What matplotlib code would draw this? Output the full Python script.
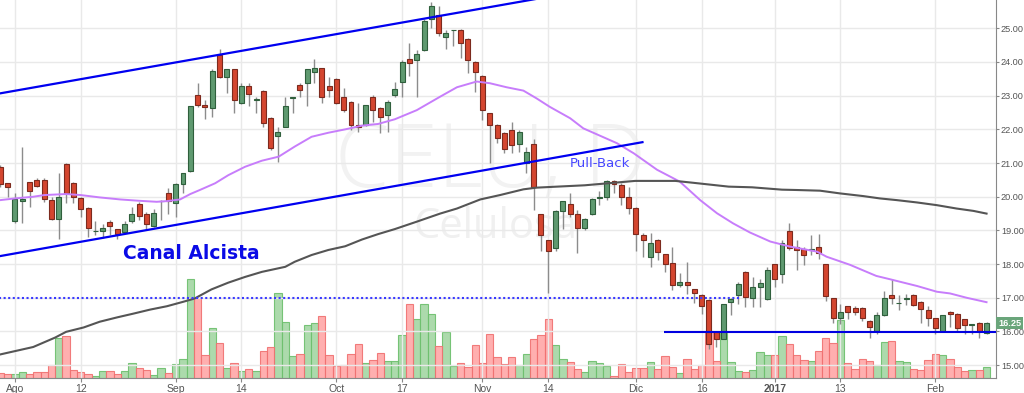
import matplotlib.pyplot as plt
from matplotlib.transforms import blended_transform_factory
import numpy as np

# daily candles, index 0 = 28 Jul 2016 ... 135 = 10 Feb 2017
opens = [20.89, 20.40, 19.29, 19.88, 20.43, 20.49, 20.51, 19.90, 19.33, 20.97,
         20.40, 19.97, 19.68, 18.97, 18.98, 19.25, 19.03, 18.96, 19.29, 19.78,
         19.48, 19.14, 19.87, 20.10, 19.82, 20.38, 20.77, 23.03, 22.72, 22.62,
         24.21, 23.56, 23.78, 22.77, 23.29, 22.88, 23.15, 22.34, 21.80, 22.08,
         22.94, 23.32, 23.37, 23.71, 23.81, 23.29, 23.49, 22.97, 22.82, 22.14,
         22.13, 22.97, 22.62, 22.43, 23.02, 23.42, 24.08, 24.06, 24.36, 25.27,
         25.40, 24.75, 24.94, 24.95, 24.67, 24.00, 23.58, 22.48, 22.14, 21.88,
         21.98, 21.58, 20.99, 21.58, 19.48, 18.71, 18.47, 19.58, 19.78, 19.48,
         19.06, 19.48, 19.96, 19.98, 20.47, 20.34, 19.98, 19.68, 18.86, 18.20,
         18.71, 18.29, 18.02, 17.38, 17.48, 17.25, 17.08, 16.93, 15.99, 15.79,
         16.88, 17.08, 17.77, 16.98, 17.31, 16.95, 17.99, 17.70, 18.99, 18.50,
         18.44, 18.42, 18.50, 18.00, 16.98, 16.39, 16.75, 16.71, 16.71, 16.31,
         16.02, 16.49, 17.08, 16.84, 16.97, 17.08, 16.88, 16.63, 16.39, 16.02,
         16.58, 16.53, 16.36, 16.20, 16.26, 15.96]
highs = [20.95, 20.42, 20.10, 21.48, 20.45, 20.55, 20.55, 20.00, 20.69, 21.00,
         20.45, 20.00, 19.70, 19.29, 19.19, 19.31, 19.05, 19.29, 19.70, 19.85,
         19.55, 19.65, 19.89, 20.25, 20.42, 20.71, 22.69, 23.39, 22.86, 23.78,
         24.38, 23.78, 23.80, 23.37, 23.37, 22.97, 23.17, 22.36, 22.06, 22.97,
         22.97, 23.37, 23.78, 24.08, 23.83, 23.54, 23.51, 23.22, 22.85, 22.77,
         22.72, 23.02, 22.67, 22.87, 23.42, 24.06, 24.57, 24.36, 25.27, 25.79,
         25.66, 24.95, 24.96, 24.97, 24.70, 24.02, 23.60, 22.50, 22.16, 21.92,
         22.23, 21.98, 21.49, 21.70, 19.50, 18.73, 19.60, 19.88, 20.12, 19.60,
         19.36, 19.95, 20.18, 20.50, 20.50, 20.40, 20.28, 19.70, 18.91, 18.91,
         18.76, 18.31, 18.50, 17.74, 18.07, 17.27, 17.10, 16.95, 16.01, 16.81,
         16.98, 17.48, 17.80, 17.62, 17.57, 17.90, 18.00, 18.71, 19.21, 18.71,
         18.51, 18.86, 18.89, 18.00, 17.00, 16.83, 16.77, 16.75, 16.73, 16.33,
         16.58, 17.21, 17.57, 17.08, 17.11, 17.11, 16.90, 16.75, 16.40, 16.49,
         16.61, 16.55, 16.38, 16.22, 16.29, 16.29]
lows = [20.30, 20.00, 19.23, 19.21, 19.70, 20.30, 19.85, 19.31, 18.76, 19.80,
        19.80, 19.41, 18.81, 18.86, 18.79, 18.86, 18.76, 18.91, 19.23, 19.31,
        19.01, 19.11, 19.31, 19.50, 19.41, 20.10, 20.74, 22.65, 22.30, 22.38,
        23.51, 23.09, 22.48, 22.75, 22.69, 22.50, 22.06, 21.39, 21.04, 22.08,
        22.48, 22.97, 22.69, 23.37, 22.79, 22.97, 22.75, 22.52, 21.98, 21.93,
        22.10, 22.23, 21.90, 21.93, 22.97, 22.97, 23.58, 22.97, 24.34, 25.00,
        24.77, 24.38, 24.48, 24.11, 23.68, 23.12, 22.28, 20.99, 21.60, 21.29,
        21.29, 21.34, 20.69, 19.60, 18.40, 17.15, 18.40, 19.03, 19.41, 18.32,
        19.01, 19.46, 19.75, 19.90, 20.12, 19.75, 19.50, 18.40, 18.22, 17.92,
        18.12, 17.77, 17.23, 17.33, 17.10, 16.85, 16.51, 15.47, 15.54, 15.79,
        16.49, 16.83, 16.73, 16.73, 16.73, 16.93, 17.31, 17.43, 18.42, 17.82,
        17.97, 18.27, 18.14, 16.91, 16.26, 16.22, 16.36, 16.49, 16.32, 15.82,
        15.92, 16.46, 16.81, 16.65, 16.78, 16.75, 16.24, 16.16, 15.92, 15.99,
        16.14, 15.99, 15.94, 15.92, 15.82, 15.93]
closes = [20.38, 20.28, 19.92, 19.93, 20.18, 20.33, 19.92, 19.33, 19.98, 20.10,
          19.98, 19.63, 19.06, 18.99, 19.07, 19.14, 18.88, 19.19, 19.48, 19.43,
          19.19, 19.53, 19.88, 19.87, 20.38, 20.69, 22.69, 22.71, 22.67, 23.73,
          23.56, 23.78, 22.87, 23.29, 23.04, 22.90, 22.18, 21.46, 21.92, 22.69,
          22.96, 23.17, 23.78, 23.82, 22.95, 23.17, 22.77, 22.57, 22.13, 22.07,
          22.72, 22.57, 22.38, 22.82, 23.19, 23.99, 23.98, 24.23, 25.22, 25.66,
          24.85, 24.87, 24.96, 24.57, 24.06, 23.71, 22.57, 22.13, 21.73, 21.42,
          21.53, 21.93, 21.34, 20.28, 18.86, 18.40, 19.58, 19.88, 19.50, 19.06,
          19.33, 19.92, 19.98, 20.47, 20.38, 19.98, 19.68, 18.88, 18.73, 18.64,
          18.37, 17.99, 17.38, 17.48, 17.38, 17.13, 16.75, 15.64, 15.79, 16.81,
          16.96, 17.40, 17.03, 17.31, 17.45, 17.84, 17.57, 18.64, 18.47, 18.42,
          18.27, 18.44, 18.34, 17.05, 16.39, 16.58, 16.58, 16.58, 16.39, 16.14,
          16.49, 16.98, 16.98, 16.86, 16.99, 16.78, 16.68, 16.39, 16.09, 16.49,
          16.53, 16.09, 16.19, 16.22, 16.02, 16.25]
volume = [5, 4, 4, 6, 4, 6, 6, 13, 40, 42, 8, 6, 4, 2, 7, 7, 4, 7, 15, 10,
          8, 3, 10, 5, 14, 19, 99, 80, 23, 50, 35, 10, 15, 7, 9, 7, 27, 31, 85, 56,
          22, 24, 53, 55, 62, 23, 12, 13, 24, 34, 15, 18, 25, 17, 17, 43, 74, 59, 74, 64,
          32, 46, 12, 15, 11, 33, 15, 44, 21, 14, 21, 13, 24, 39, 43, 59, 33, 19, 16, 9,
          6, 17, 15, 12, 2, 14, 6, 10, 10, 16, 9, 22, 11, 5, 19, 9, 13, 47, 17, 45,
          16, 7, 6, 8, 26, 23, 23, 42, 34, 23, 18, 17, 27, 40, 35, 58, 15, 9, 19, 17,
          13, 36, 37, 17, 16, 9, 8, 18, 24, 23, 19, 11, 7, 8, 8, 11]

# moving averages
ma_fast_x = [0, 2, 4.5, 6, 9, 11, 13.6, 16.4, 19, 21.4, 22.8, 24.6, 26, 27.3, 29.4,
             31.2, 33.5, 35.8, 38.1, 40.3, 42.6, 44.9, 47.2, 49.5, 51.7, 54, 57, 60.2,
             62.5, 65.2, 67, 69.3, 71.6, 73.4, 75.2, 78, 79.8, 84.4, 86.7, 89.9, 93,
             95.8, 98.1, 100.3, 102.6, 105.4, 108.1, 111.8, 113.1, 116.3, 119.9, 121.8,
             125.5, 128.2, 130, 132.3, 135]
ma_fast_y = [19.90, 19.95, 20.00, 20.05, 20.08, 20.05, 19.98, 19.92, 19.88, 19.85, 19.87,
             19.92, 20.08, 20.20, 20.40, 20.64, 20.89, 21.07, 21.19, 21.49, 21.78, 21.90,
             22.00, 22.11, 22.16, 22.30, 22.57, 22.97, 23.25, 23.42, 23.37, 23.25, 23.15,
             22.92, 22.67, 22.33, 22.03, 21.59, 21.29, 20.80, 20.45, 19.90, 19.51, 19.21,
             18.94, 18.67, 18.52, 18.37, 18.22, 17.98, 17.65, 17.55, 17.35, 17.18, 17.13,
             17.00, 16.87]
ma_slow_x = [0, 4.5, 7.5, 9, 11.4, 13.6, 16, 18.2, 20.5, 22.8, 25, 26.6, 28.9, 31.2,
             33.5, 35.8, 39, 40.3, 42.6, 44.9, 47.2, 49.5, 51.7, 54, 57, 60.2, 62.5, 65.7,
             68.4, 71.6, 73.4, 76.2, 80, 86.9, 92.4, 94.6, 99.7, 102.9, 107, 109, 112.2,
             114.9, 118.1, 120.4, 122.7, 125.5, 128.2, 130.9, 133.2, 135]
ma_slow_y = [15.32, 15.54, 15.82, 15.99, 16.12, 16.29, 16.42, 16.53, 16.65, 16.75, 16.88,
             16.98, 17.25, 17.45, 17.62, 17.77, 17.92, 18.07, 18.27, 18.42, 18.53, 18.73,
             18.89, 19.04, 19.26, 19.50, 19.65, 19.92, 20.05, 20.22, 20.27, 20.30, 20.34,
             20.47, 20.47, 20.42, 20.30, 20.28, 20.21, 20.20, 20.18, 20.10, 20.02, 19.95,
             19.90, 19.83, 19.75, 19.65, 19.58, 19.50]

tick_pos = [2, 11, 24, 33, 46, 55, 66, 75, 87, 96, 106, 115, 128]
tick_lab = ["Ago", "12", "Sep", "14", "Oct", "17", "Nov", "14", "Dic", "16", "2017", "13", "Feb"]

fig = plt.figure(figsize=(10.24, 3.93), dpi=100)
ax = fig.add_axes([0, 0.0382, 0.9727, 0.9618])
axv = ax.twinx()
ax.set_zorder(axv.get_zorder() + 1)
ax.patch.set_visible(False)

x = np.arange(len(closes))
o = np.array(opens)
c = np.array(closes)
vol = np.array(volume)
up = c >= o
lo = np.minimum(o, c)
hgt = np.maximum(np.abs(c - o), 0.015)

# volume
axv.bar(x[up], vol[up], width=1.0, color='#a3d6a3', edgecolor='#6cbf6c', lw=0.8, alpha=0.9)
axv.bar(x[~up], vol[~up], width=1.0, color='#ffa6a6', edgecolor='#f07070', lw=0.8, alpha=0.9)
axv.set_ylim(0, 378)
axv.axis('off')

# watermark
ax.text(0.336, 0.505, "CELU, D", transform=ax.transAxes, fontsize=63, color='#f2f2f2',
        family='Open Sans', fontweight='light', va='baseline', zorder=0)
ax.text(0.415, 0.370, "Celulosa", transform=ax.transAxes, fontsize=30, color='#f0f0f0',
        family='Open Sans', va='baseline', zorder=0)

# candles
ax.vlines(x, lows, highs, color='#8c8c8c', lw=1, zorder=3)
ax.bar(x[up], hgt[up], bottom=lo[up], width=0.68, color='#5f9a70', edgecolor='#2f5f3c', lw=0.8, zorder=4)
ax.bar(x[~up], hgt[~up], bottom=lo[~up], width=0.68, color='#d4462f', edgecolor='#7c2a1e', lw=0.8, zorder=4)

ax.plot(ma_fast_x, ma_fast_y, color='#c77dfb', lw=1.4, zorder=5)
ax.plot(ma_slow_x, ma_slow_y, color='#555555', lw=1.5, zorder=5)

# channel
ax.plot([0, 74], [23.07, 23.07 + 0.0382 * 74], color='#0000f0', lw=1.6, zorder=6)
ax.plot([0, 87.9], [18.24, 21.62], color='#0000f0', lw=1.6, zorder=6)
ax.hlines(17.0, -1, 101.4, color='#3a3aff', lw=1.5, linestyles=(0, (1, 1.2)), zorder=6)
ax.hlines(15.98, 90.9, 140, color='#0000e0', lw=1.5, zorder=6)

ax.text(16.8, 18.33, "Canal Alcista", color='#0a0ae6', fontsize=13.5, fontweight='bold',
        va='center', ha='left', zorder=7)
ax.text(78.0, 21.0, "Pull-Back", color='#4646ff', fontsize=9.5, va='center', ha='left', zorder=7)

ax.set_xlim(-0.05, 136.3)
ax.set_ylim(14.62, 25.84)

ax.yaxis.tick_right()
ax.set_yticks(np.arange(15, 26, 1))
ax.set_yticklabels(["%.2f" % v for v in np.arange(15, 26, 1)])
ax.set_xticks(tick_pos)
ax.set_xticklabels(tick_lab)
for lbl in ax.get_xticklabels() + ax.get_yticklabels():
    lbl.set_family('Liberation Sans')
    if lbl.get_text() == "2017":
        lbl.set_fontweight('bold')
ax.tick_params(axis='both', labelsize=7.5, labelcolor='#555555', color='#888888', length=3)
ax.tick_params(axis='y', labelsize=6.6, pad=1, length=2.5)
ax.tick_params(axis='x', pad=1)
ax.grid(True, color='#e9e9e9', lw=1)
ax.set_axisbelow(True)
for s in ['left', 'top']:
    ax.spines[s].set_visible(False)
for s in ['right', 'bottom']:
    ax.spines[s].set_color('#888888')

trans = blended_transform_factory(ax.transAxes, ax.transData)
ax.text(1.002, closes[-1], "%.2f" % closes[-1], transform=trans, fontsize=6.6, color='white',
        family='Liberation Sans', fontweight='bold', va='center', ha='left', zorder=10,
        bbox=dict(boxstyle='square,pad=0.2', fc='#6aa57a', ec='none'))

fig.savefig("out.png", dpi=100)
